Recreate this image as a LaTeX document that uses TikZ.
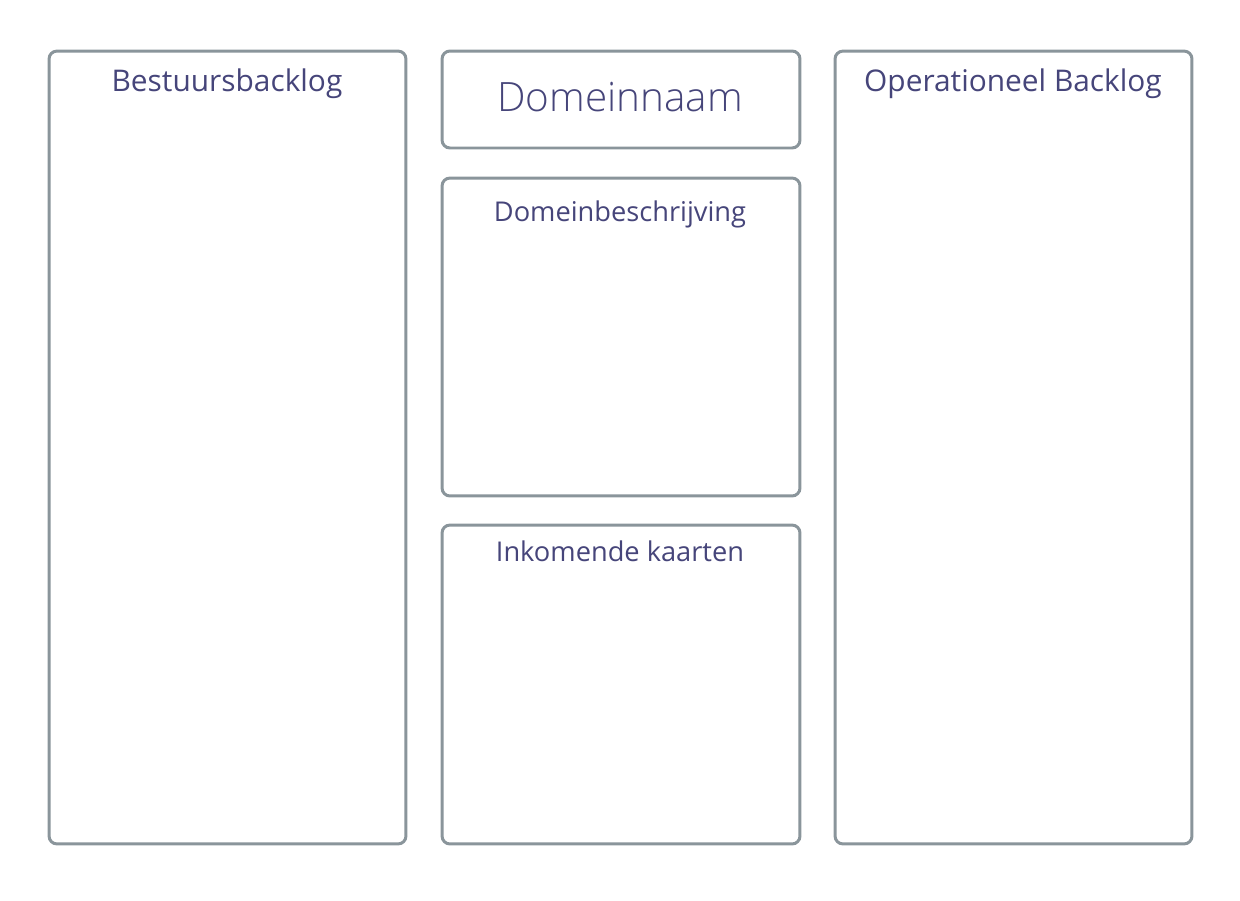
\documentclass[tikz,border=0pt]{standalone}
\usepackage{fontspec}
\setmainfont{Open Sans}
\newfontfamily\lightfont{Open Sans Light}
\usepackage{tikz}
\usetikzlibrary{positioning}
\definecolor{boxline}{HTML}{8A959B}
\definecolor{titleink}{HTML}{46457A}

\begin{document}
\begin{tikzpicture}[
    x=0.02cm, y=-0.02cm,
    panel/.style={draw=boxline, line width=1.7pt, rounded corners=4.5pt, fill=white},
    heading/.style={text=titleink, font=\fontsize{15.5}{18}\selectfont, anchor=base, inner sep=0pt},
    sideheading/.style={heading, font=\fontsize{17}{20}\selectfont},
    bigheading/.style={text=titleink, font=\lightfont\fontsize{23}{27}\selectfont, anchor=base, inner sep=0pt}
  ]
  \useasboundingbox (0,0) rectangle (1240,900);

  % Panels
  \node[panel, minimum width=7.14cm, minimum height=15.86cm] (bestuur) at (227.5, 447.5) {};
  \node[panel, minimum width=7.16cm, minimum height=1.94cm] (naam) at (621, 99.5) {};
  \node[panel, minimum width=7.16cm, minimum height=6.36cm] (beschrijving) at (621, 337) {};
  \node[panel, minimum width=7.16cm, minimum height=6.38cm] (inkomend) at (621, 684.5) {};
  \node[panel, minimum width=7.14cm, minimum height=15.86cm] (operationeel) at (1013.5, 447.5) {};

  % Titles
  \node[sideheading] (bestuurtitle) at (227, 91) {Bestuursbacklog};
  \node[bigheading] (naamtitle) at (620, 111) {Domeinnaam};
  \node[heading] (beschrijvingtitle) at (620, 221) {Domeinbeschrijving};
  \node[heading] (inkomendtitle) at (620, 561) {Inkomende kaarten};
  \node[sideheading] (operationeeltitle) at (1013, 91) {Operationeel Backlog};
\end{tikzpicture}
\end{document}
